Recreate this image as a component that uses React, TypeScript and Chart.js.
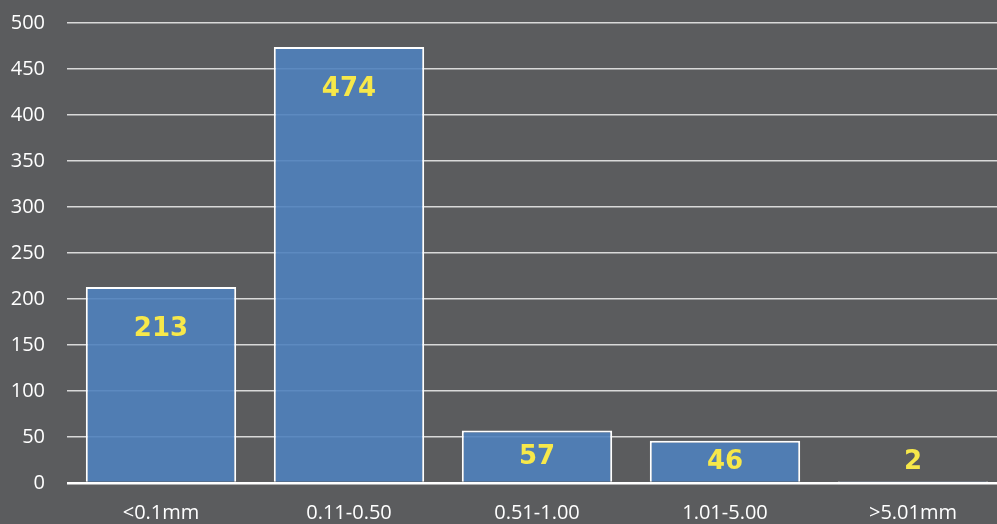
import React, { useEffect, useRef } from "react";
import { Chart, registerables } from "chart.js";

Chart.register(...registerables);

const categories = ["<0.1mm", "0.11-0.50", "0.51-1.00", "1.01-5.00", ">5.01mm"];
const counts = [213, 474, 57, 46, 2];
const yTicks = [0, 50, 100, 150, 200, 250, 300, 350, 400, 450, 500];

const labelPlugin = {
  id: "valueLabels",
  afterDatasetsDraw(chart: any) {
    const ctx = chart.ctx;
    const meta = chart.getDatasetMeta(0);
    const base = chart.scales.y.getPixelForValue(0);
    ctx.save();
    ctx.fillStyle = "#f7e84a";
    ctx.font = "bold 26px 'DejaVu Sans'";
    ctx.textAlign = "center";
    ctx.textBaseline = "middle";
    meta.data.forEach((bar: any, i: number) => {
      const h = base - bar.y;
      let y: number;
      if (h < 30) y = bar.y - 19;
      else y = bar.y + Math.min(42, h / 2);
      ctx.fillText(String(counts[i]), bar.x, y);
    });
    ctx.restore();
  },
};

export default function App() {
  const ref = useRef<HTMLCanvasElement>(null);
  useEffect(() => {
    const chart = new Chart(ref.current!, {
      type: "bar",
      data: {
        labels: categories,
        datasets: [
          {
            data: counts,
            backgroundColor: "rgba(79,129,189,0.9)",
            borderColor: "#ffffff",
            borderWidth: 2,
            barPercentage: 0.8,
            categoryPercentage: 1,
          },
        ],
      },
      options: {
        animation: false,
        responsive: false,
        maintainAspectRatio: false,
        layout: { padding: { top: 23, right: 0, left: 0, bottom: 0 } },
        plugins: { legend: { display: false }, tooltip: { enabled: false } },
        scales: {
          x: {
            grid: { display: false },
            border: { display: false },
            afterFit: (axis: any) => {
              axis.height = 41;
              axis.paddingLeft = 0;
              axis.paddingRight = 0;
            },
            ticks: {
              color: "#ffffff",
              font: { family: "'Open Sans'", size: 20 },
              padding: 10,
            },
          },
          y: {
            min: 0,
            max: 500,
            afterBuildTicks: (axis: any) => {
              axis.ticks = yTicks.map((v) => ({ value: v }));
            },
            afterFit: (axis: any) => {
              axis.width = 67;
              axis.paddingTop = 0;
              axis.paddingBottom = 0;
            },
            border: { display: false },
            grid: {
              drawTicks: false,
              color: (c: any) => (c.index === 0 ? "#ffffff" : "#d9d9d9"),
              lineWidth: (c: any) => (c.index === 0 ? 2.5 : 1.5),
            },
            ticks: {
              color: "#ffffff",
              font: { family: "'Open Sans'", size: 20 },
              padding: 22,
            },
          },
        },
      },
      plugins: [labelPlugin],
    });
    return () => chart.destroy();
  }, []);
  return (
    <div
      style={{
        position: "fixed",
        left: 0,
        top: 0,
        width: 997,
        height: 524,
        overflow: "hidden",
        background: "#5b5c5e",
      }}
    >
      <canvas ref={ref} width={1007} height={524} style={{ display: "block" }} />
    </div>
  );
}
